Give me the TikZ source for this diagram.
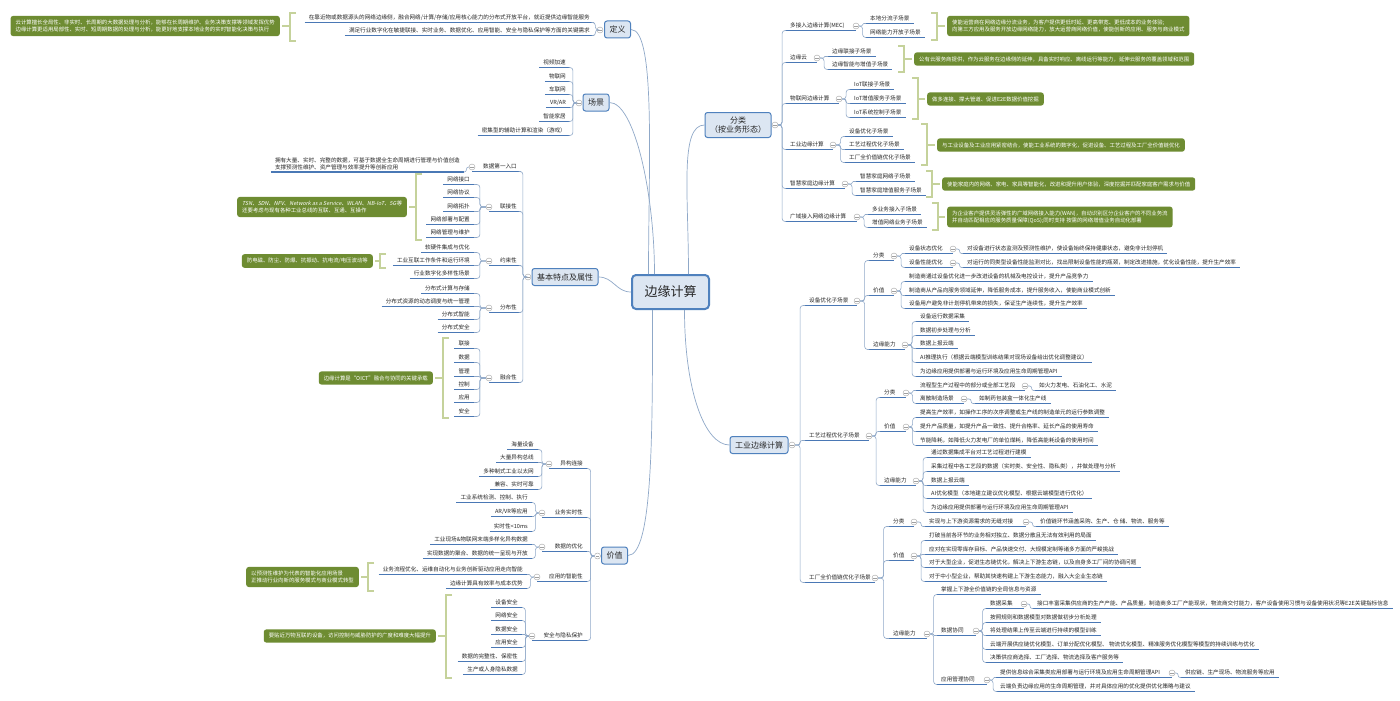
\documentclass[tikz,border=0pt]{standalone}
\usepackage{fontspec}
\setmainfont{Noto Sans CJK SC}
\newfontfamily\slfont[FakeSlant=0.2]{Noto Sans CJK SC}
\usetikzlibrary{calc}
\definecolor{ulc}{HTML}{4A78B5}
\definecolor{conc}{HTML}{8FA8C8}
\definecolor{boxf}{HTML}{DCE6F2}
\definecolor{boxd}{HTML}{4F81BD}
\definecolor{grn}{HTML}{6E8C32}
\definecolor{brkc}{HTML}{C5D29B}
\definecolor{txt}{HTML}{262626}
\definecolor{circ}{HTML}{A0A0A0}
\tikzset{
 lab/.style={font=\fontsize{5.6}{7}\selectfont, text=txt, inner xsep=4pt, inner ysep=1.4pt, text height=4.7pt, text depth=1.1pt},
 labm/.style={font=\fontsize{5.6}{7}\selectfont, text=txt, inner xsep=4pt, inner ysep=1.4pt, align=left},
 ul/.style={draw=ulc, line width=1.1pt},
 con/.style={draw=conc, line width=0.6pt},
 bcon/.style={draw=conc, line width=0.7pt},
 cir/.style={circle, draw=circ, fill=white, line width=0.4pt, minimum size=6pt, inner sep=0pt, path picture={\draw[circ, line width=0.4pt] ([xshift=-1.7pt]path picture bounding box.center) -- ([xshift=1.7pt]path picture bounding box.center);}},
 mbox/.style={draw=boxd, fill=boxf, line width=1pt, rounded corners=2.5pt, font=\fontsize{8}{9.5}\selectfont, text=txt, inner xsep=5pt, inner ysep=2pt, minimum height=17pt, align=center},
 cbox/.style={draw=boxd, fill=boxf, line width=2pt, rounded corners=4pt, font=\fontsize{13}{15}\selectfont, text=txt, minimum width=77pt, minimum height=34pt},
 gbox/.style={fill=grn, text=white, rounded corners=2.5pt, font=\fontsize{5.4}{7}\selectfont, inner xsep=5pt, inner ysep=4pt, align=left},
 brk/.style={draw=brkc, line width=2.3pt},
}
\newcommand\Lf[4]{\node[lab,anchor=east] (#1) at (#2,#3) {#4};\draw[ul] (#1.south west) -- (#1.south east);}
\newcommand\Rf[4]{\node[lab,anchor=west] (#1) at (#2,#3) {#4};\draw[ul] (#1.south west) -- (#1.south east);}
\newcommand\Lp[5]{\node[lab,anchor=east] (#1) at (#2,#3) {#4};\coordinate (#1k) at (#5,#3);\draw[ul] (#1k |- #1.south) -- (#1.south east);\node[cir] (#1c) at (#1k) {};}
\newcommand\Rp[5]{\node[lab,anchor=west] (#1) at (#2,#3) {#4};\coordinate (#1k) at (#5,#3);\draw[ul] (#1.south west) -- (#1k |- #1.south);\node[cir] (#1c) at (#1k) {};}
\newcommand\cL[2]{\draw[con] let \p1=(#1.west), \p2=(#2.south east), \n1={min(3pt,abs((\y2)-(\y1))/2.2)} in [rounded corners=\n1] (\p1) -- ({((\x1)+(\x2))/2},\y1) -- ({((\x1)+(\x2))/2},\y2) -- (\p2);}
\newcommand\cR[2]{\draw[con] let \p1=(#1.east), \p2=(#2.south west), \n1={min(3pt,abs((\y2)-(\y1))/2.2)} in [rounded corners=\n1] (\p1) -- ({((\x1)+(\x2))/2},\y1) -- ({((\x1)+(\x2))/2},\y2) -- (\p2);}
\newcommand\brL[5]{\draw[brk] (#1+6,#2) -- (#1,#2) -- (#1,#3) -- (#1+6,#3);\draw[brk] (#1,#4) -- ([xshift=2pt]#5.east);}
\newcommand\brR[5]{\draw[brk] (#1-6,#2) -- (#1,#2) -- (#1,#3) -- (#1-6,#3);\draw[brk] (#1,#4) -- ([xshift=-2pt]#5.west);}
\begin{document}
\begin{tikzpicture}[x=1pt,y=-1pt]
\fill[white] (0,0) rectangle (1400,701);
\useasboundingbox (0,0) rectangle (1400,701);

% ---------- centre and main boxes
\node[cbox] (ec) at (670.5,292) {边缘计算};
\node[mbox] (dy) at (617.5,29.5) {定义};
\node[cir] (dyc) at (600,30) {};
\node[mbox] (cj) at (596,102.5) {场景};
\node[cir] (cjc) at (579,103) {};
\node[mbox] (jb) at (565,277) {基本特点及属性};
\node[cir] (jbc) at (528,277) {};
\node[mbox] (jz) at (614.5,555.5) {价值};
\node[cir] (jzc) at (597.5,556) {};
\node[mbox, minimum height=25pt] (fl) at (738,125) {分类\\（按业务形态）};
\node[cir] (flc) at (775,125) {};
\node[mbox] (gy) at (759,445) {工业边缘计算};
\node[cir] (gyc) at (792,445) {};

\draw[bcon] ([xshift=-22pt]ec.north) .. controls +(0,-110) and +(25,0) .. (dy.east);
\draw[bcon] ([xshift=-16pt]ec.north) .. controls +(0,-80) and +(25,0) .. (cj.east);
\draw[bcon] (ec.west) .. controls +(-15,0) and +(15,0) .. (jb.east);
\draw[bcon] ([xshift=-18pt]ec.south) .. controls +(0,120) and +(25,0) .. (jz.east);
\draw[bcon] ([xshift=18pt]ec.north) .. controls +(0,-80) and +(-25,0) .. (fl.west);
\draw[bcon] ([xshift=14pt]ec.south) .. controls +(0,80) and +(-25,0) .. (gy.west);

% ---------- 定义
\Lf{d1}{594}{18}{在靠近物或数据源头的网络边缘侧，融合网络/计算/存储/应用核心能力的分布式开放平台，就近提供边缘智能服务}
\Lf{d2}{594}{31}{满足行业数字化在敏捷联接、实时业务、数据优化、应用智能、安全与隐私保护等方面的关键需求}
\cL{dyc}{d1}\cL{dyc}{d2}
\node[gbox, anchor=east] (g0) at (280,26) {云计算擅长全局性、非实时、长周期的大数据处理与分析，能够在长周期维护、业务决策支撑等领域发挥优势\\边缘计算更适用局部性、实时、短周期数据的处理与分析，能更好地支撑本地业务的实时智能化决策与执行};
\brL{290}{13}{41}{26}{g0}

% ---------- 场景
\Lf{cj1}{570}{63}{视频加速}
\Lf{cj2}{570}{77}{物联网}
\Lf{cj3}{570}{90}{车联网}
\Lf{cj4}{570}{103}{VR/AR}
\Lf{cj5}{570}{117}{智能家居}
\Lf{cj6}{570}{131}{密集型的辅助计算和渲染（游戏）}
\cL{cjc}{cj1}\cL{cjc}{cj2}\cL{cjc}{cj3}\cL{cjc}{cj4}\cL{cjc}{cj5}\cL{cjc}{cj6}

% ---------- 基本特点及属性
\Lp{sj}{521}{167}{数据第一入口}{472}
\node[labm, anchor=south east] (sj1) at (464,172) {拥有大量、实时、完整的数据，可基于数据全生命周期进行管理与价值创造\\支撑预测性维护、资产管理与效率提升等创新应用};
\draw[ul] (sj1.south west) -- (sj1.south east);
\cL{sjc}{sj1}
\Lp{lj}{521}{207}{联接性}{489}
\Lf{lj1}{474}{180}{网络接口}
\Lf{lj2}{474}{193}{网络协议}
\Lf{lj3}{474}{207}{网络拓扑}
\Lf{lj4}{474}{220}{网络部署与配置}
\Lf{lj5}{474}{233}{网络管理与维护}
\cL{ljc}{lj1}\cL{ljc}{lj2}\cL{ljc}{lj3}\cL{ljc}{lj4}\cL{ljc}{lj5}
\node[gbox, anchor=east] (g1) at (407,207) {{\slfont TSN、SDN、NFV、Network as a Service、WLAN、NB-IoT、5G等}\\还要考虑与现有各种工业总线的互联、互通、互操作};
\brL{416}{174}{240}{207}{g1}
\Lp{ys}{521}{261}{约束性}{489}
\Lf{ys1}{474}{248}{软硬件集成与优化}
\Lf{ys2}{474}{261}{工业互联工作条件和运行环境}
\Lf{ys3}{474}{274}{行业数字化多样性场景}
\cL{ysc}{ys1}\cL{ysc}{ys2}\cL{ysc}{ys3}
\node[gbox, anchor=east] (g2) at (373,261) {防电磁、防尘、防爆、抗振动、抗电流/电压波动等};
\brL{380}{254}{268}{261}{g2}
\Lp{fb}{521}{308}{分布性}{489}
\Lf{fb1}{474}{289}{分布式计算与存储}
\Lf{fb2}{474}{302}{分布式资源的动态调度与统一管理}
\Lf{fb3}{474}{315}{分布式智能}
\Lf{fb4}{474}{328}{分布式安全}
\cL{fbc}{fb1}\cL{fbc}{fb2}\cL{fbc}{fb3}\cL{fbc}{fb4}
\Lp{rh}{521}{378}{融合性}{489}
\Lf{rh1}{474}{344}{联接}
\Lf{rh2}{474}{358}{数据}
\Lf{rh3}{474}{372}{管理}
\Lf{rh4}{474}{385}{控制}
\Lf{rh5}{474}{398}{应用}
\Lf{rh6}{474}{412}{安全}
\cL{rhc}{rh1}\cL{rhc}{rh2}\cL{rhc}{rh3}\cL{rhc}{rh4}\cL{rhc}{rh5}\cL{rhc}{rh6}
\node[gbox, anchor=east] (g3) at (433,378) {边缘计算是“OICT”融合与协同的关键承载};
\brL{443}{338}{418}{378}{g3}
\cL{jbc}{sj}\cL{jbc}{lj}\cL{jbc}{ys}\cL{jbc}{fb}\cL{jbc}{rh}

% ---------- 价值
\Lp{yg}{587}{464}{异构连接}{549}
\Lf{yg1}{538}{445}{海量设备}
\Lf{yg2}{538}{458}{大量异构总线}
\Lf{yg3}{538}{472}{多种制式工业以太网}
\Lf{yg4}{538}{485}{兼容、实时可靠}
\cL{ygc}{yg1}\cL{ygc}{yg2}\cL{ygc}{yg3}\cL{ygc}{yg4}
\Lp{ss}{587}{513}{业务实时性}{542}
\Lf{ss1}{532}{498}{工业系统检测、控制、执行}
\Lf{ss2}{532}{512}{AR/VR等应用}
\Lf{ss3}{532}{527}{实时性<10ms}
\cL{ssc}{ss1}\cL{ssc}{ss2}\cL{ssc}{ss3}
\Lp{sy}{587}{547}{数据的优化}{542}
\Lf{sy1}{532}{540}{工业现场\&物联网末端多样化异构数据}
\Lf{sy2}{532}{554}{实现数据的聚合、数据的统一呈现与开放}
\cL{syc}{sy1}\cL{syc}{sy2}
\Lp{zn}{587}{577}{应用的智能性}{537}
\Lf{zn1}{527}{570}{业务流程优化、运维自动化与业务创新驱动应用走向智能}
\Lf{zn2}{527}{584}{边缘计算具有效率与成本优势}
\cL{znc}{zn1}\cL{znc}{zn2}
\node[gbox, anchor=east] (g4) at (359,577) {以预测性维护为代表的智能化应用场景\\正推动行业向新的服务模式与商业模式转型};
\brL{368}{563}{591}{577}{g4}
\Lp{aq}{587}{636}{安全与隐私保护}{532}
\Lf{aq1}{522}{603}{设备安全}
\Lf{aq2}{522}{616}{网络安全}
\Lf{aq3}{522}{630}{数据安全}
\Lf{aq4}{522}{643}{应用安全}
\Lf{aq5}{522}{657}{数据的完整性、保密性}
\Lf{aq6}{522}{670}{生产或人身隐私数据}
\cL{aqc}{aq1}\cL{aqc}{aq2}\cL{aqc}{aq3}\cL{aqc}{aq4}\cL{aqc}{aq5}\cL{aqc}{aq6}
\node[gbox, anchor=east] (g5) at (436,636) {要贴近万物互联的设备，访问控制与威胁防护的广度和难度大幅提升};
\brL{446}{595}{678}{636}{g5}
\cL{jzc}{yg}\cL{jzc}{ss}\cL{jzc}{sy}\cL{jzc}{zn}\cL{jzc}{aq}

% ---------- 分类（按业务形态）
\Rp{mec}{786}{26}{多接入边缘计算(MEC)}{856}
\Rf{mec1}{866}{19}{本地分流子场景}
\Rf{mec2}{866}{33}{网络能力开放子场景}
\cR{mecc}{mec1}\cR{mecc}{mec2}
\node[gbox, anchor=west] (gm) at (947,26) {使能运营商在网络边缘分流业务，为客户提供更低时延、更高带宽、更低成本的业务体验;\\向第三方应用及服务开放边缘网络能力，放大运营商网络价值，使能创新的应用、服务与商业模式};
\brR{937}{13}{40}{26}{gm}
\Rp{byy}{786}{58}{边缘云}{817}
\Rf{byy1}{828}{52}{边缘联接子场景}
\Rf{byy2}{828}{65}{边缘智能与增值子场景}
\cR{byyc}{byy1}\cR{byyc}{byy2}
\node[gbox, anchor=west] (gb) at (914,59) {公有云服务商提供，作为云服务在边缘侧的延伸，具备实时响应、离线运行等能力，延伸云服务的覆盖领域和范围};
\brR{904}{46}{72}{59}{gb}
\Rp{wl}{786}{99}{物联网边缘计算}{839}
\Rf{wl1}{850}{85}{IoT联接子场景}
\Rf{wl2}{850}{99}{IoT增值服务子场景}
\Rf{wl3}{850}{113}{IoT系统控制子场景}
\cR{wlc}{wl1}\cR{wlc}{wl2}\cR{wlc}{wl3}
\node[gbox, anchor=west] (gw) at (927,99) {做多连接、撑大管道、促进E2E数据价值挖掘};
\brR{918}{78}{119}{99}{gw}
\Rp{gye}{786}{145}{工业边缘计算}{833}
\Rf{gye1}{845}{132}{设备优化子场景}
\Rf{gye2}{845}{145}{工艺过程优化子场景}
\Rf{gye3}{845}{158}{工厂全价值链优化子场景}
\cR{gyec}{gye1}\cR{gyec}{gye2}\cR{gyec}{gye3}
\node[gbox, anchor=west] (gi) at (937,145) {与工业设备及工业应用紧密结合，使能工业系统的数字化，促进设备、工艺过程及工厂全价值链优化};
\brR{927}{124}{165}{145}{gi}
\Rp{zh}{786}{184}{智慧家庭边缘计算}{845}
\Rf{zh1}{856}{177}{智慧家庭网络子场景}
\Rf{zh2}{856}{191}{智慧家庭增值服务子场景}
\cR{zhc}{zh1}\cR{zhc}{zh2}
\node[gbox, anchor=west] (gz) at (942,184) {使能家庭内的网络、家电、家具等智能化，改进和提升用户体验，深度挖掘并匹配家庭客户需求与价值};
\brR{932}{171}{197}{184}{gz}
\Rp{gw2}{786}{217}{广域接入网络边缘计算}{857}
\Rf{gw21}{868}{210}{多业务接入子场景}
\Rf{gw22}{868}{223}{增值网络业务子场景}
\cR{gw2c}{gw21}\cR{gw2c}{gw22}
\node[gbox, anchor=west] (gk) at (947,217) {为企业客户提供灵活弹性的广域网络接入能力(WAN)，自动识别区分企业客户的不同业务流\\并自动匹配相应的服务质量保障(QoS);同时支持 按需的网络增值业务自动化部署};
\brR{938}{203}{230}{217}{gk}
\cR{flc}{mec}\cR{flc}{byy}\cR{flc}{wl}\cR{flc}{gye}\cR{flc}{zh}\cR{flc}{gw2}

% ---------- 工业边缘计算: 设备优化子场景
\Rp{sb}{805}{301}{设备优化子场景}{857}
\Rp{sbfl}{869}{256}{分类}{894}
\Rp{sbfl1}{905}{249}{设备状态优化}{953}
\Rf{sbfl1a}{963}{249}{对设备进行状态监测及预测性维护，使设备始终保持健康状态，避免非计划停机}
\Rp{sbfl2}{905}{263}{设备性能优化}{953}
\Rf{sbfl2a}{963}{263}{对运行的同类型设备性能监测对比，找出限制设备性能的瓶颈，制定改进措施，优化设备性能，提升生产效率}
\cR{sbfl1c}{sbfl1a}\cR{sbfl2c}{sbfl2a}\cR{sbflc}{sbfl1}\cR{sbflc}{sbfl2}
\Rp{sbjz}{869}{291}{价值}{894}
\Rf{sbjz1}{905}{277}{制造商通过设备优化进一步改进设备的机械及电控设计，提升产品竞争力}
\Rf{sbjz2}{905}{291}{制造商从产品向服务领域延伸，降低服务成本，提升服务收入，使能商业模式创新}
\Rf{sbjz3}{905}{304}{设备用户避免非计划停机带来的损失，保证生产连续性，提升生产效率}
\cR{sbjzc}{sbjz1}\cR{sbjzc}{sbjz2}\cR{sbjzc}{sbjz3}
\Rp{sbnl}{869}{345}{边缘能力}{905}
\Rf{sbnl1}{916}{317}{设备运行数据采集}
\Rf{sbnl2}{916}{331}{数据初步处理与分析}
\Rf{sbnl3}{916}{344}{数据上报云端}
\Rf{sbnl4}{916}{358}{AI推理执行（根据云端模型训练结果对现场设备给出优化调整建议）}
\Rf{sbnl5}{916}{372}{为边缘应用提供部署与运行环境及应用生命周期管理API}
\cR{sbnlc}{sbnl1}\cR{sbnlc}{sbnl2}\cR{sbnlc}{sbnl3}\cR{sbnlc}{sbnl4}\cR{sbnlc}{sbnl5}
\cR{sbc}{sbfl}\cR{sbc}{sbjz}\cR{sbc}{sbnl}

% ---------- 工艺过程优化子场景
\Rp{gg}{805}{436}{工艺过程优化子场景}{869}
\Rp{ggfl}{880}{393}{分类}{906}
\Rp{ggfl1}{916}{386}{流程型生产过程中的部分或全部工艺段}{1025}
\Rf{ggfl1a}{1035}{386}{如火力发电、石油化工、水泥}
\Rp{ggfl2}{916}{399}{离散制造场景}{964}
\Rf{ggfl2a}{975}{399}{如制药包装盒一体化生产线}
\cR{ggfl1c}{ggfl1a}\cR{ggfl2c}{ggfl2a}\cR{ggflc}{ggfl1}\cR{ggflc}{ggfl2}
\Rp{ggjz}{880}{427}{价值}{906}
\Rf{ggjz1}{916}{413}{提高生产效率，如操作工序的次序调整或生产线的制造单元的运行参数调整}
\Rf{ggjz2}{916}{427}{提升产品质量，如提升产品一致性、提升合格率、延长产品的使用寿命}
\Rf{ggjz3}{916}{441}{节能降耗，如降低火力发电厂的单位煤耗，降低高能耗设备的使用时间}
\cR{ggjzc}{ggjz1}\cR{ggjzc}{ggjz2}\cR{ggjzc}{ggjz3}
\Rp{ggnl}{880}{481}{边缘能力}{916}
\Rf{ggnl1}{927}{453}{通过数据集成平台对工艺过程进行建模}
\Rf{ggnl2}{927}{467}{采集过程中各工艺段的数据（实时类、安全性、隐私类），并做处理与分析}
\Rf{ggnl3}{927}{481}{数据上报云端}
\Rf{ggnl4}{927}{494}{AI优化模型（本地建立建议优化模型、根据云端模型进行优化）}
\Rf{ggnl5}{927}{508}{为边缘应用提供部署与运行环境及应用生命周期管理API}
\cR{ggnlc}{ggnl1}\cR{ggnlc}{ggnl2}\cR{ggnlc}{ggnl3}\cR{ggnlc}{ggnl4}\cR{ggnlc}{ggnl5}
\cR{ggc}{ggfl}\cR{ggc}{ggjz}\cR{ggc}{ggnl}

% ---------- 工厂全价值链优化子场景
\Rp{gc}{805}{578}{工厂全价值链优化子场景}{875}
\Rp{gcfl}{889}{522}{分类}{914}
\Rp{gcfl1}{925}{522}{实现与上下游资源需求的无缝对接}{1026}
\Rf{gcfl1a}{1036}{522}{价值链环节涵盖采购、生产、仓 储、物流、服务等}
\cR{gcfl1c}{gcfl1a}\cR{gcflc}{gcfl1}
\Rp{gcjz}{889}{556}{价值}{914}
\Rf{gcjz1}{925}{536}{打破当前各环节的业务相对独立、数据分散且无法有效利用的局面}
\Rf{gcjz2}{925}{550}{应对在实现零库存目标、产品快速交付、大规模定制等诸多方面的严峻挑战}
\Rf{gcjz3}{925}{563}{对于大型企业，促进生态链优化，解决上下游生态链，以及自身多工厂间的协调问题}
\Rf{gcjz4}{925}{577}{对于中小型企业，帮助其快速构建上下游生态能力，融入大企业生态链}
\cR{gcjzc}{gcjz1}\cR{gcjzc}{gcjz2}\cR{gcjzc}{gcjz3}\cR{gcjzc}{gcjz4}
\Rp{gcnl}{889}{634}{边缘能力}{927}
\Rf{gcnl1}{937}{590}{掌握上下游全价值链的全局信息与资源}
\Rp{gcsj}{937}{631}{数据协同}{976}
\Rp{gcsj1}{986}{604}{数据采集}{1024}
\Rf{gcsj1a}{1033}{604}{接口丰富采集供应商的生产产能、产品质量，制造商多工厂产能现状，物流商交付能力，客户设备使用习惯与设备使用状况等E2E关键指标信息}
\Rf{gcsj2}{986}{618}{按照规则和数据模型对数据做初步分析处理}
\Rf{gcsj3}{986}{631}{将处理结果上传至云端进行持续的模型训练}
\Rf{gcsj4}{986}{645}{云端开展供应链优化模型、订单分配优化模型、 物流优化模型、精准服务优化模型等模型的持续训练与优化}
\Rf{gcsj5}{986}{658}{决策供应商选择、工厂选择、物流选择及客户服务等}
\cR{gcsj1c}{gcsj1a}
\cR{gcsjc}{gcsj1}\cR{gcsjc}{gcsj2}\cR{gcsjc}{gcsj3}\cR{gcsjc}{gcsj4}\cR{gcsjc}{gcsj5}
\Rp{gcyy}{937}{680}{应用管理协同}{987}
\Rp{gcyy1}{996}{673}{提供信息综合采集类应用部署与运行环境及应用生命周期管理API}{1172}
\Rf{gcyy1a}{1181}{673}{供应链、生产现场、物流服务等应用}
\Rf{gcyy2}{996}{687}{云端负责边缘应用的生命周期管理，并对具体应用的优化提供优化策略与建议}
\cR{gcyy1c}{gcyy1a}\cR{gcyyc}{gcyy1}\cR{gcyyc}{gcyy2}
\cR{gcnlc}{gcnl1}\cR{gcnlc}{gcsj}\cR{gcnlc}{gcyy}
\cR{gcc}{gcfl}\cR{gcc}{gcjz}\cR{gcc}{gcnl}
\cR{gyc}{sb}\cR{gyc}{gg}\cR{gyc}{gc}
\end{tikzpicture}
\end{document}
